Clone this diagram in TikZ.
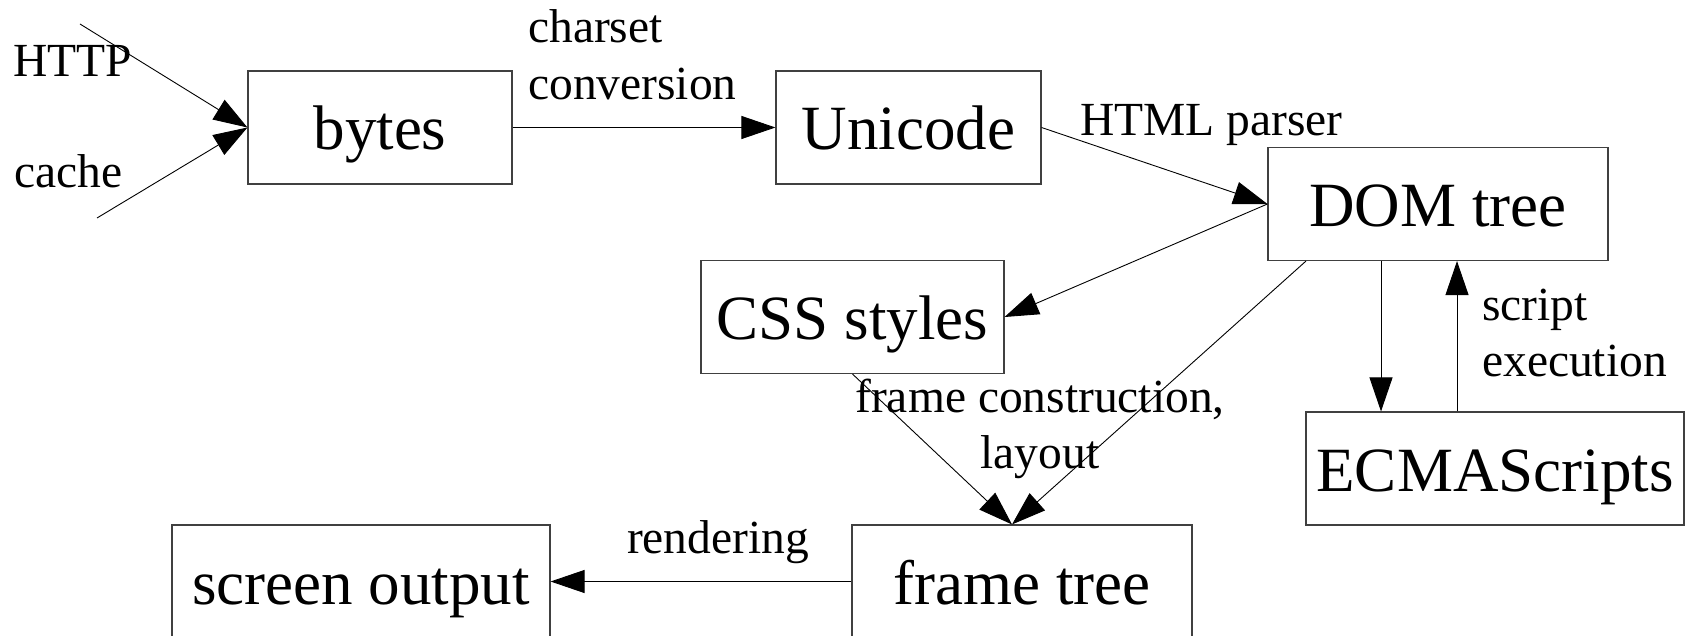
\documentclass[tikz,border=0pt]{standalone}
\usepackage{fontspec}
\setmainfont{Liberation Serif}
\usetikzlibrary{arrows.meta}
\tikzset{
  box/.style={draw=black!75, line width=1.1pt, inner sep=0pt, minimum height=113pt,
    text height=45pt, text depth=0pt, font=\fontsize{63}{70}\selectfont},
  lbl/.style={inner sep=0pt, font=\fontsize{47.5}{57}\selectfont},
  arr/.style={draw=black, line width=0.9pt, -{Triangle[length=34pt,width=23pt]}},
}
\begin{document}
\begin{tikzpicture}[x=1pt,y=-1pt]
\useasboundingbox (0,0) rectangle (1695,636);
\clip (0,0) rectangle (1695,636);
% boxes
\node[box, minimum width=264pt] (bytes) at (380,127.5) {bytes};
\node[box, minimum width=265pt] (uni) at (908.5,127.5) {Unicode};
\node[box, minimum width=340pt] (dom) at (1438,204) {DOM tree};
\node[box, minimum width=303pt] (css) at (852.5,317) {CSS styles};
\node[box, minimum width=378pt] (ecma) at (1495,468.5) {ECMAScripts};
\node[box, minimum width=340pt] (ft) at (1022,581.5) {frame tree};
\node[box, minimum width=378pt] (scr) at (361,581.5) {screen output};
% labels
\node[lbl, anchor=base west] (lhttp) at (13,77) {HTTP};
\node[lbl, anchor=base west] (lcache) at (14,188) {cache};
\node[lbl, anchor=base west] (lcs1) at (528,43) {charset};
\node[lbl, anchor=base west] (lcs2) at (528,100) {conversion};
\node[lbl, anchor=base west] (lhtml) at (1080,136) {HTML parser};
\node[lbl, anchor=base west] (lsc1) at (1482,320) {script};
\node[lbl, anchor=base west] (lsc2) at (1482,377) {execution};
\node[lbl, anchor=base] (lfc1) at (1040,412) {frame construction,};
\node[lbl, anchor=base] (lfc2) at (1040,468) {layout};
\node[lbl, anchor=base] (lrend) at (718,553) {rendering};
% helper coordinates
\coordinate (hsrc) at (80,24);
\coordinate (csrc) at (97,218);
\coordinate (xa) at (1381,0);
\coordinate (xb) at (1457,0);
\coordinate (xc) at (1306,0);
\coordinate (fttip) at ([xshift=-10pt]ft.north);
% connectors
\draw[arr] (hsrc) -- (bytes.west);
\draw[arr] (csrc) -- (bytes.west);
\draw[arr] (bytes.east) -- (uni.west);
\draw[arr] (uni.east) -- (dom.west);
\draw[arr] (dom.west) -- (css.east);
\draw[arr] (dom.south -| xc) -- (fttip);
\draw[arr] (css.south) -- (fttip);
\draw[arr] (dom.south -| xa) -- (ecma.north -| xa);
\draw[arr] (ecma.north -| xb) -- (dom.south -| xb);
\draw[arr] (ft.west) -- (scr.east);
\end{tikzpicture}
\end{document}
